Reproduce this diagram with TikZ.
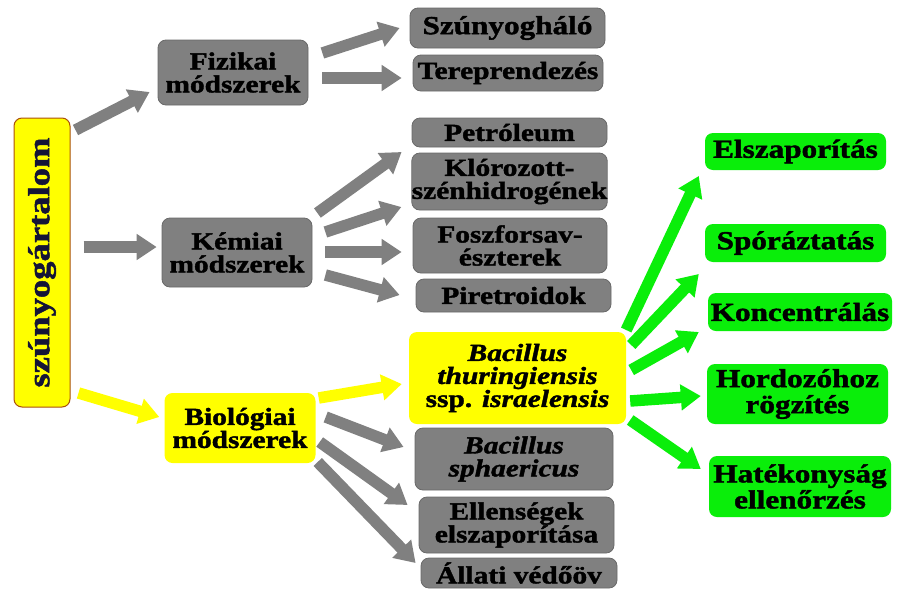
\documentclass[tikz,border=0pt]{standalone}
\usepackage{fontspec}
\setmainfont[FakeStretch=1.2,
  BoldFeatures={FakeBold=1.6},
  BoldItalicFeatures={FakeBold=1.6}]{Liberation Serif}
\usetikzlibrary{arrows.meta,calc}
\definecolor{boxgray}{RGB}{128,128,128}
\definecolor{boxgrayd}{RGB}{105,105,105}
\definecolor{arrgray}{RGB}{128,128,128}
\definecolor{yel}{RGB}{255,255,0}
\definecolor{grn}{RGB}{10,238,10}
\definecolor{rootborder}{RGB}{170,80,10}
\definecolor{roottext}{RGB}{20,20,55}
\tikzset{
  base/.style={rounded corners=8pt, inner sep=0pt, align=center,
    font=\bfseries\fontsize{24.5}{23}\selectfont, text=black},
  graybox/.style={base, fill=boxgray, draw=boxgrayd, line width=0.8pt},
  yelbox/.style={base, fill=yel},
  grnbox/.style={base, fill=grn, font=\bfseries\fontsize{26}{26}\selectfont},
  blockarrow/.style={line width=11.5pt, -{Triangle[length=20pt,width=25pt]}},
  grayarrow/.style={blockarrow, draw=arrgray},
  yelarrow/.style={blockarrow, draw=yel},
  grnarrow/.style={blockarrow, draw=grn},
}
\begin{document}
\begin{tikzpicture}[x=1pt,y=-1pt]
\useasboundingbox[fill=white] (0,0) rectangle (918,595);

% root
\node[base, fill=yel, draw=rootborder, line width=1pt, minimum width=56pt, minimum height=289pt,
  text=roottext] (root) at (42,262.5)
  {\rotatebox{90}{\fontsize{30.5}{30}\selectfont szúnyogártalom}};

% level 1
\node[graybox, minimum width=150pt, minimum height=65pt] (fiz) at (233,72.5) {Fizikai\\módszerek};
\node[graybox, minimum width=150pt, minimum height=69pt] (kem) at (237,252.5) {Kémiai\\módszerek};
\node[yelbox, minimum width=151pt, minimum height=70pt] (bio) at (240,428) {Biológiai\\módszerek};

% level 2
\node[graybox, minimum width=195pt, minimum height=40pt] (szh) at (507.5,28) {\fontsize{26}{24}\selectfont Szúnyogháló};
\node[graybox, minimum width=190pt, minimum height=36pt] (ter) at (508,73) {Tereprendezés};
\node[graybox, minimum width=195pt, minimum height=29pt] (pet) at (509.5,132.5) {Petróleum};
\node[graybox, minimum width=195pt, minimum height=57pt] (klo) at (509.5,181.5) {Klórozott-\\szénhidrogének};
\node[graybox, minimum width=194pt, minimum height=55pt] (fos) at (510,245.5) {Foszforsav-\\észterek};
\node[graybox, minimum width=195pt, minimum height=33pt] (pir) at (513.5,295.5) {Piretroidok};
\node[yelbox, minimum width=217pt, minimum height=92pt] (bti) at (517.5,378)
  {\textit{Bacillus}\\\textit{thuringiensis}\\ssp. \textit{israelensis}};
\node[graybox, minimum width=198pt, minimum height=62pt] (bsp) at (514,459) {\textit{Bacillus}\\\textit{sphaericus}};
\node[graybox, minimum width=195pt, minimum height=56pt] (ell) at (516.5,525) {Ellenségek\\elszaporítása};
\node[graybox, minimum width=196pt, minimum height=30pt] (all) at (519,573) {Állati védőöv};

% level 3
\node[grnbox, minimum width=181pt, minimum height=37pt] (g1) at (795.5,151.5) {Elszaporítás};
\node[grnbox, minimum width=181pt, minimum height=38pt] (g2) at (795.5,243) {Spóráztatás};
\node[grnbox, minimum width=184pt, minimum height=38pt] (g3) at (800,312) {Koncentrálás};
\node[grnbox, minimum width=181pt, minimum height=60pt] (g4) at (797.5,394) {Hordozóhoz\\rögzítés};
\node[grnbox, minimum width=182pt, minimum height=61pt] (g5) at (800,486.5) {Hatékonyság\\ellenőrzés};

% arrows from root
\draw[grayarrow] ([shift={(5,-132.5)}]root.east) -- ([shift={(-8,19.5)}]fiz.west);
\draw[grayarrow] ([shift={(13,-15.5)}]root.east) -- ([shift={(-5,-5.5)}]kem.west);
\draw[yelarrow]  ([shift={(8,130.5)}]root.east) -- ([shift={(-5,-11)}]bio.west);

% physical
\draw[grayarrow] ([shift={(14,-19.5)}]fiz.east) -- ([shift={(-10,0)}]szh.west);
\draw[grayarrow] ([shift={(14,5.5)}]fiz.east) -- ([shift={(-11,5)}]ter.west);

% chemical
\draw[grayarrow] ([shift={(5,-39.5)}]kem.east) -- ([shift={(-10,19.5)}]pet.west);
\draw[grayarrow] ([shift={(13,-20.5)}]kem.east) -- ([shift={(-10,25.5)}]klo.west);
\draw[grayarrow] ([shift={(13,-0.5)}]kem.east) -- ([shift={(-11,6.5)}]fos.west);
\draw[grayarrow] ([shift={(13,22.5)}]kem.east) -- ([shift={(-16,-0.5)}]pir.west);

% biological
\draw[yelarrow]  ([shift={(3,-30)}]bio.east) -- ([shift={(-7,6)}]bti.west);
\draw[grayarrow] ([shift={(10,-11)}]bio.east) -- ([shift={(-11,-12)}]bsp.west);
\draw[grayarrow] ([shift={(4,14)}]bio.east) -- ([shift={(-11,-20)}]ell.west);
\draw[grayarrow] ([shift={(2,34)}]bio.east) -- ([shift={(-5,-10)}]all.west);

% green
\draw[grnarrow] ([shift={(0,-48)}]bti.east) -- ([shift={(-6,24.5)}]g1.west);
\draw[grnarrow] ([shift={(5,-33)}]bti.east) -- ([shift={(-6,31)}]g2.west);
\draw[grnarrow] ([shift={(5,-8)}]bti.east) -- ([shift={(-9,20)}]g3.west);
\draw[grnarrow] ([shift={(4,23)}]bti.east) -- ([shift={(-6,2)}]g4.west);
\draw[grnarrow] ([shift={(4,42)}]bti.east) -- ([shift={(-8,-17.5)}]g5.west);
\end{tikzpicture}
\end{document}
